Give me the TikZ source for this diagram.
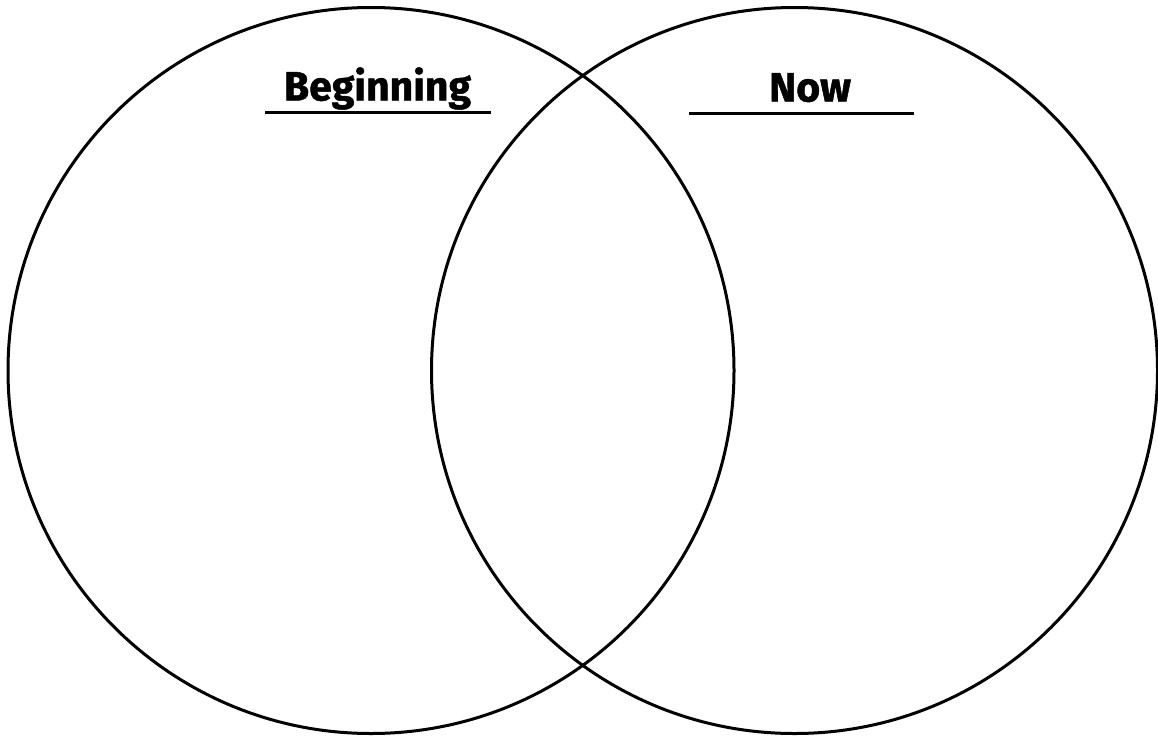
\documentclass[tikz,border=0pt]{standalone}
\usepackage{fontspec}
\newfontfamily\labfont[FakeStretch=1.0,FakeBold=1.2]{Fira Sans}
\begin{document}
\begin{tikzpicture}[x=1pt,y=-1pt,
  ring/.style={draw=black,line width=3pt},
  lab/.style={font=\labfont\bfseries\fontsize{41}{41}\selectfont,inner sep=0pt,anchor=base},
  rule/.style={line width=3pt}]
\useasboundingbox (0,0) rectangle (1158,739);
\node[ring,circle,minimum size=726pt,inner sep=0pt] (L) at (371,370.5) {};
\node[ring,circle,minimum size=726pt,inner sep=0pt] (R) at (794.5,370.5) {};
\node[lab] (tb) at (377.5,100.5) {Beginning};
\node[lab] (tn) at (810,101.5) {Now};
\coordinate (b1) at (265,112.5);
\coordinate (b2) at (491,112.5);
\coordinate (n1) at (689,113.5);
\coordinate (n2) at (914,113.5);
\draw[rule] (b1) -- (b2);
\draw[rule] (n1) -- (n2);
\end{tikzpicture}
\end{document}
